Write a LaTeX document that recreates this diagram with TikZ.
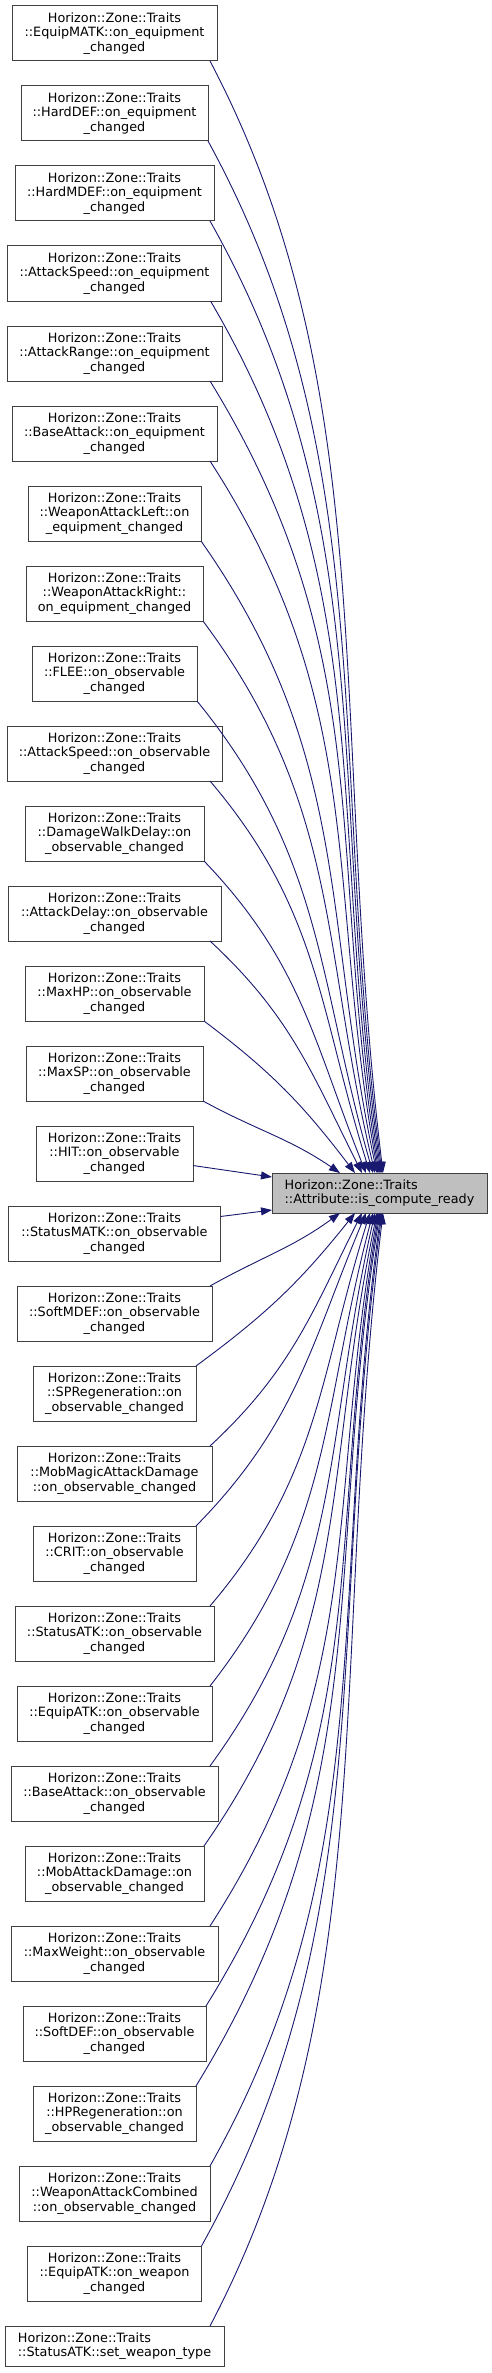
\documentclass[tikz,border=0pt]{standalone}
\usepackage{fontspec}
\newfontfamily\dvs{DejaVu Sans}
\usetikzlibrary{arrows.meta,calc}
\definecolor{mblue}{HTML}{191970}
\definecolor{boxgray}{HTML}{404040}
\definecolor{tgtfill}{HTML}{BFBFBF}
\begin{document}
\begin{tikzpicture}[x=1pt,y=-1pt,
  fnbox/.style={draw=boxgray, line width=1pt, fill=white, font=\dvs\fontsize{12.8}{14.7}\selectfont, align=center, minimum height=55pt, inner sep=0pt, outer sep=0pt},
  callarrow/.style={draw=mblue, line width=0.9pt, -{Triangle[length=11pt,width=8pt]}}]
\fill[white] (0,0) rectangle (492,2373);
\useasboundingbox (0,0) rectangle (492,2373);
\node[fnbox, fill=tgtfill, align=left, minimum width=215pt, minimum height=40pt] (t) at (379.5,1193) {Horizon::Zone::Traits\\::Attribute::is\_compute\_ready};
\node[fnbox, minimum width=205pt] (n1) at (114.5,33.5) {Horizon::Zone::Traits\\::EquipMATK::on\_equipment\\\_changed};
\node[fnbox, minimum width=187pt] (n2) at (114.5,113.5) {Horizon::Zone::Traits\\::HardDEF::on\_equipment\\\_changed};
\node[fnbox, minimum width=199pt] (n3) at (114.5,193.5) {Horizon::Zone::Traits\\::HardMDEF::on\_equipment\\\_changed};
\node[fnbox, minimum width=214pt] (n4) at (114.5,273.5) {Horizon::Zone::Traits\\::AttackSpeed::on\_equipment\\\_changed};
\node[fnbox, minimum width=215pt] (n5) at (114.5,353.5) {Horizon::Zone::Traits\\::AttackRange::on\_equipment\\\_changed};
\node[fnbox, minimum width=205pt] (n6) at (114.5,433.5) {Horizon::Zone::Traits\\::BaseAttack::on\_equipment\\\_changed};
\node[fnbox, minimum width=173pt] (n7) at (114.5,513.5) {Horizon::Zone::Traits\\::WeaponAttackLeft::on\\\_equipment\_changed};
\node[fnbox, minimum width=177pt] (n8) at (114.5,593.5) {Horizon::Zone::Traits\\::WeaponAttackRight::\\on\_equipment\_changed};
\node[fnbox, minimum width=165pt] (n9) at (114.5,673.5) {Horizon::Zone::Traits\\::FLEE::on\_observable\\\_changed};
\node[fnbox, minimum width=215pt] (n10) at (114.5,753.5) {Horizon::Zone::Traits\\::AttackSpeed::on\_observable\\\_changed};
\node[fnbox, minimum width=179pt] (n11) at (114.5,833.5) {Horizon::Zone::Traits\\::DamageWalkDelay::on\\\_observable\_changed};
\node[fnbox, minimum width=213pt] (n12) at (114.5,913.5) {Horizon::Zone::Traits\\::AttackDelay::on\_observable\\\_changed};
\node[fnbox, minimum width=179pt] (n13) at (114.5,993.5) {Horizon::Zone::Traits\\::MaxHP::on\_observable\\\_changed};
\node[fnbox, minimum width=177pt] (n14) at (114.5,1073.5) {Horizon::Zone::Traits\\::MaxSP::on\_observable\\\_changed};
\node[fnbox, minimum width=157pt] (n15) at (114.5,1153.5) {Horizon::Zone::Traits\\::HIT::on\_observable\\\_changed};
\node[fnbox, minimum width=212pt] (n16) at (114.5,1233.5) {Horizon::Zone::Traits\\::StatusMATK::on\_observable\\\_changed};
\node[fnbox, minimum width=195pt] (n17) at (114.5,1313.5) {Horizon::Zone::Traits\\::SoftMDEF::on\_observable\\\_changed};
\node[fnbox, minimum width=163pt] (n18) at (114.5,1393.5) {Horizon::Zone::Traits\\::SPRegeneration::on\\\_observable\_changed};
\node[fnbox, minimum width=195pt] (n19) at (114.5,1473.5) {Horizon::Zone::Traits\\::MobMagicAttackDamage\\::on\_observable\_changed};
\node[fnbox, minimum width=163pt] (n20) at (114.5,1553.5) {Horizon::Zone::Traits\\::CRIT::on\_observable\\\_changed};
\node[fnbox, minimum width=199pt] (n21) at (114.5,1633.5) {Horizon::Zone::Traits\\::StatusATK::on\_observable\\\_changed};
\node[fnbox, minimum width=195pt] (n22) at (114.5,1713.5) {Horizon::Zone::Traits\\::EquipATK::on\_observable\\\_changed};
\node[fnbox, minimum width=207pt] (n23) at (114.5,1793.5) {Horizon::Zone::Traits\\::BaseAttack::on\_observable\\\_changed};
\node[fnbox, minimum width=179pt] (n24) at (114.5,1873.5) {Horizon::Zone::Traits\\::MobAttackDamage::on\\\_observable\_changed};
\node[fnbox, minimum width=207pt] (n25) at (114.5,1953.5) {Horizon::Zone::Traits\\::MaxWeight::on\_observable\\\_changed};
\node[fnbox, minimum width=183pt] (n26) at (114.5,2033.5) {Horizon::Zone::Traits\\::SoftDEF::on\_observable\\\_changed};
\node[fnbox, minimum width=163pt] (n27) at (114.5,2113.5) {Horizon::Zone::Traits\\::HPRegeneration::on\\\_observable\_changed};
\node[fnbox, minimum width=191pt] (n28) at (114.5,2193.5) {Horizon::Zone::Traits\\::WeaponAttackCombined\\::on\_observable\_changed};
\node[fnbox, minimum width=174pt] (n29) at (114.5,2273.5) {Horizon::Zone::Traits\\::EquipATK::on\_weapon\\\_changed};
\node[fnbox, align=left, minimum width=219pt, minimum height=40pt] (n30) at (114.5,2346) {Horizon::Zone::Traits\\::StatusATK::set\_weapon\_type};
% callers above the target
\foreach \k/\r/\xe in {1/217/383,2/208/382,3/214/381,4/221/380,5/222/379,6/217/378,7/201/377,8/203/375,9/197/373,10/222/370,11/204/366,12/221/362,13/204/355,14/203/340}{
  \pgfmathsetmacro\xs{min(\r,210)}
  \pgfmathsetmacro\sdx{\xs-\r}
  \pgfmathsetmacro\ys{61+80*(\k-1)}
  \pgfmathsetmacro\ye{1173}
  \pgfmathsetmacro\dx{\xe-\xs}
  \pgfmathsetmacro\dy{\ye-\ys}
  \pgfmathsetmacro\al{atan(0.75*sqrt(\dy/\dx))}
  \pgfmathsetmacro\be{atan(1.3*\dy/\dx)}
  \pgfmathsetmacro\L{0.4*\dy*sqrt(1+(\dx/\dy)^2)}
  \pgfmathsetmacro\Lo{min(\L,\dx/cos(\al))}
  \pgfmathsetmacro\ax{\xs+\Lo*cos(\al)}
  \pgfmathsetmacro\ay{\ys+\Lo*sin(\al)}
  \pgfmathsetmacro\bx{\xe-\L*cos(\be)}
  \pgfmathsetmacro\by{\ye-\L*sin(\be)}
  \draw[callarrow] ($(n\k.south east)+(\sdx,0)$) .. controls (\ax,\ay) and (\bx,\by) .. ($(t.north)+(\xe-379.5,0)$);
}
% callers below the target
\foreach \k/\r/\xe in {17/212/340,18/196/355,19/212/362,20/196/366,21/214/370,22/212/373,23/218/375,24/204/377,25/218/378,26/206/379,27/196/380,28/210/381,29/201/382,30/224/383}{
  \pgfmathsetmacro\xs{min(\r,210)}
  \pgfmathsetmacro\sdx{\xs-\r}
  \pgfmathsetmacro\ys{6+80*(\k-1)}
  \pgfmathsetmacro\ye{1213}
  \pgfmathsetmacro\dx{\xe-\xs}
  \pgfmathsetmacro\dy{\ys-\ye}
  \pgfmathsetmacro\al{atan(0.75*sqrt(\dy/\dx))}
  \pgfmathsetmacro\be{atan(1.3*\dy/\dx)}
  \pgfmathsetmacro\L{0.4*\dy*sqrt(1+(\dx/\dy)^2)}
  \pgfmathsetmacro\Lo{min(\L,\dx/cos(\al))}
  \pgfmathsetmacro\ax{\xs+\Lo*cos(\al)}
  \pgfmathsetmacro\ay{\ys-\Lo*sin(\al)}
  \pgfmathsetmacro\bx{\xe-\L*cos(\be)}
  \pgfmathsetmacro\by{\ye+\L*sin(\be)}
  \draw[callarrow] ($(n\k.north east)+(\sdx,0)$) .. controls (\ax,\ay) and (\bx,\by) .. ($(t.south)+(\xe-379.5,0)$);
}
% nearly level callers
\draw[callarrow] ($(n15.east)+(0,12)$) -- ($(t.west)+(0,-16)$);
\draw[callarrow] ($(n16.east)+(0,-17)$) -- ($(t.west)+(0,17)$);
\end{tikzpicture}
\end{document}
